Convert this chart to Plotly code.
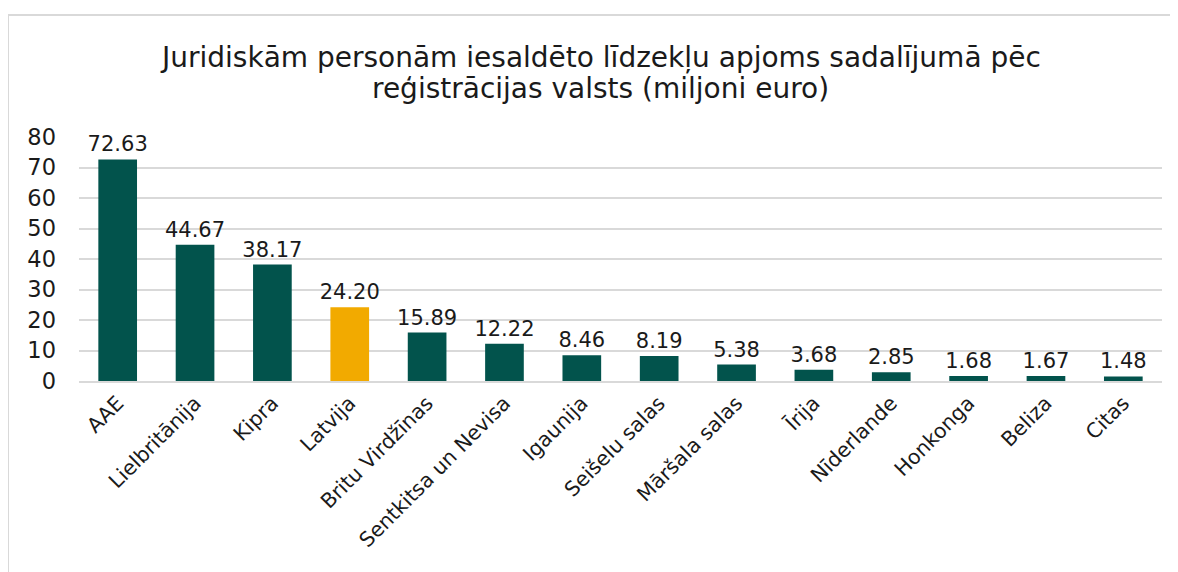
import plotly.graph_objects as go

categories = ["AAE", "Lielbritānija", "Kipra", "Latvija", "Britu Virdžīnas",
              "Sentkitsa un Nevisa", "Igaunija", "Seišelu salas", "Māršala salas",
              "Īrija", "Nīderlande", "Honkonga", "Beliza", "Citas"]
values = [72.63, 44.67, 38.17, 24.20, 15.89, 12.22, 8.46, 8.19, 5.38, 3.68, 2.85, 1.68, 1.67, 1.48]
highlight = "Latvija"
title_lines = ["Juridiskām personām iesaldēto līdzekļu apjoms sadalījumā pēc",
               "reģistrācijas valsts (miljoni euro)"]

GREEN = "#02534C"
YELLOW = "#F2AA00"
colors = [YELLOW if c == highlight else GREEN for c in categories]

W, H = 1178, 572
L, R, T, B = 71, 24, 129, 199
FONT = "Verdana, DejaVu Sans, sans-serif"

fig = go.Figure(go.Bar(
    x=categories, y=values,
    marker=dict(color=colors, line=dict(width=0)),
    width=0.5,
    text=[f"{v:.2f}" for v in values],
    textposition="outside",
    constraintext="none",
    textfont=dict(family=FONT, size=21, color="#1a1a1a"),
    cliponaxis=False,
))

pw = W - L - R
ph = H - T - B
x0 = (0 - L) / pw
y1 = (H - B - 7) / ph

title_y = [49, 80]  # vertical centres of title lines (px from top of figure)
annotations = [
    dict(text=t, xref="paper", yref="paper",
         x=(592 - L) / pw, y=(H - B - yy) / ph,
         xanchor="center", yanchor="middle", showarrow=False,
         font=dict(family=FONT, size=28, color="#1a1a1a"))
    for t, yy in zip(title_lines, title_y)
]

fig.update_layout(
    width=W, height=H,
    margin=dict(l=L, r=R, t=T, b=B),
    paper_bgcolor="white", plot_bgcolor="white",
    showlegend=False,
    font=dict(family=FONT, color="#1a1a1a"),
    annotations=annotations,
    xaxis=dict(
        tickangle=-45,
        tickfont=dict(family=FONT, size=20.5, color="#1a1a1a"),
        showgrid=False, showline=True, linecolor="#d9d9d9", linewidth=2,
        ticks="",
    ),
    yaxis=dict(
        range=[0, 80], dtick=10,
        tickfont=dict(family=FONT, size=22.5, color="#1a1a1a"),
        showgrid=True, gridcolor="#d9d9d9", gridwidth=2,
        zeroline=False, ticks="", ticklabelstandoff=22,
    ),
    shapes=[dict(type="rect", xref="paper", yref="paper",
                 x0=x0, x1=1.2, y0=-1.0, y1=y1,
                 line=dict(color="#d9d9d9", width=2), fillcolor="rgba(0,0,0,0)",
                 layer="below")],
)

fig.write_html("out.html")
